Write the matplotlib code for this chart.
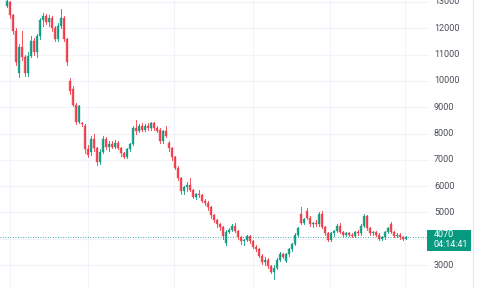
import matplotlib
matplotlib.use("Agg")
import matplotlib.pyplot as plt
from matplotlib.patches import Rectangle

plt.rcParams["font.family"] = ["Roboto", "DejaVu Sans"]

# daily candles, oldest first
opens = [12850, 13000, 12500, 11900, 10300, 11300, 10900, 10300, 10950, 11500,
         11100, 11700, 12300, 12450, 12250, 12400, 12000, 11600, 12100, 12400,
         11600, 10000, 9700, 9100, 8450, 8400, 8300, 7400, 7300, 7800,
         7450, 6900, 7300, 7800, 7500, 7600, 7500, 7650, 7450, 7250,
         7100, 7400, 7600, 8200, 8100, 8300, 8150, 8300, 8200, 8400,
         8200, 8150, 7700, 8100, 7650, 7450, 7100, 6700, 6300, 5800,
         5950, 6050, 5850, 5600, 5700, 5650, 5450, 5350, 5200, 4900,
         4700, 4550, 4450, 3850, 4250, 4350, 4500, 4300, 4050, 3900,
         3950, 4100, 3900, 3700, 3600, 3350, 3100, 3200, 2950, 2750,
         2900, 3200, 3400, 3150, 3400, 3600, 3800, 4150, 4950, 4600,
         5050, 4800, 4550, 4600, 4550, 4950, 4450, 4200, 3950, 4200,
         4300, 4500, 4250, 4150, 4200, 4150, 4100, 4250, 4200, 4500,
         4850, 4400, 4200, 4250, 4150, 4000, 4050, 4250, 4550, 4250,
         4100, 4150, 4050, 4000]
highs = [13100, 13050, 12550, 12000, 11400, 11900, 11000, 11100, 11700, 11650,
         11800, 12400, 12600, 12550, 12500, 12450, 12100, 12200, 12750, 12450,
         11650, 10100, 9800, 9150, 9100, 8450, 8350, 7550, 7900, 8000,
         7500, 7400, 7900, 7850, 7700, 7700, 7750, 7700, 7500, 7300,
         7450, 7650, 8300, 8500, 8350, 8400, 8350, 8400, 8450, 8450,
         8300, 8200, 8150, 8300, 7700, 7500, 7150, 6750, 6350, 6000,
         6150, 6300, 5900, 5750, 5850, 5700, 5500, 5450, 5250, 4950,
         4750, 4600, 4500, 4350, 4400, 4550, 4600, 4350, 4100, 4000,
         4150, 4150, 3950, 3750, 3650, 3400, 3300, 3250, 3000, 3000,
         3250, 3500, 3450, 3450, 3650, 3850, 4200, 4450, 5200, 4800,
         5150, 4850, 4650, 4700, 5000, 5050, 4500, 4250, 4250, 4350,
         4550, 4600, 4300, 4250, 4250, 4200, 4300, 4350, 4550, 4950,
         4900, 4450, 4300, 4300, 4200, 4100, 4300, 4450, 4650, 4300,
         4200, 4200, 4100, 4100]
lows = [12800, 12400, 11800, 10600, 10150, 10800, 10200, 10200, 10900, 11000,
        10900, 11600, 12100, 12150, 12100, 11900, 11500, 11500, 12000, 11500,
        10600, 9500, 9050, 8350, 8400, 8300, 7250, 7100, 7200, 7350,
        6800, 6850, 7250, 7400, 7350, 7450, 7450, 7400, 7150, 7050,
        7050, 7350, 7550, 8000, 8050, 8100, 8100, 8150, 8150, 8150,
        8050, 7650, 7650, 7850, 7350, 7000, 6650, 6250, 5700, 5700,
        5800, 5800, 5550, 5500, 5600, 5400, 5300, 5100, 4800, 4650,
        4450, 4350, 4000, 3750, 4200, 4300, 4250, 4000, 3800, 3750,
        3900, 3850, 3650, 3550, 3300, 3050, 3000, 2900, 2700, 2450,
        2850, 3150, 3250, 3100, 3350, 3550, 3750, 4100, 4550, 4550,
        4750, 4500, 4450, 4500, 4500, 4400, 4150, 3900, 3900, 4100,
        4250, 4200, 4100, 4100, 4100, 4050, 4050, 4150, 4150, 4450,
        4350, 4150, 4150, 4100, 3950, 3950, 4000, 4200, 4200, 4050,
        4050, 4000, 3950, 3980]
closes = [13050, 12500, 11900, 10700, 11300, 10900, 10300, 10950, 11500, 11100,
          11700, 12300, 12450, 12250, 12400, 12000, 11600, 12100, 12400, 11600,
          10700, 9600, 9100, 8450, 9050, 8350, 7400, 7200, 7800, 7450,
          6900, 7300, 7800, 7500, 7600, 7500, 7650, 7450, 7250, 7100,
          7400, 7600, 8200, 8100, 8300, 8150, 8300, 8200, 8400, 8200,
          8100, 7700, 8100, 7900, 7450, 7100, 6700, 6300, 5800, 5950,
          6050, 5850, 5600, 5700, 5650, 5450, 5350, 5200, 4900, 4700,
          4550, 4450, 4100, 4250, 4350, 4500, 4300, 4050, 3900, 3950,
          4100, 3900, 3700, 3600, 3350, 3100, 3200, 2950, 2750, 2900,
          3200, 3400, 3300, 3400, 3600, 3800, 4150, 4400, 4600, 4750,
          4800, 4550, 4600, 4550, 4950, 4450, 4200, 3950, 4200, 4300,
          4500, 4250, 4150, 4200, 4150, 4100, 4250, 4200, 4500, 4850,
          4400, 4200, 4250, 4150, 4000, 4050, 4250, 4400, 4250, 4100,
          4150, 4050, 4000, 4070]

price_levels = [3000, 5000, 6000, 7000, 8000, 9000, 10000, 11000, 12000, 13000]
grid_levels = [3000, 4000, 5000, 6000, 7000, 8000, 9000, 10000, 11000, 12000, 13000]
vgrid_idx = [1, 27, 55.7, 82, 107.7, 132.7]
last_label = "4070"
timer_label = "04:14:41"

UP = "#089981"
DOWN = "#f23645"

fig = plt.figure(figsize=(4.8, 2.88), dpi=100)
ax = fig.add_axes([0, 0, 1, 1])
ax.set_xlim(-2.33, 157.67)
ax.set_ylim(2126, 13076)
ax.axis("off")

for g in grid_levels:
    ax.plot([-2.33, 140.5], [g, g], color="#f0f3fa", lw=0.8, zorder=0)
for v in vgrid_idx:
    ax.axvline(v, color="#f0f3fa", lw=0.8, zorder=0)
ax.axvline(155.3, color="#e6e8ee", lw=0.8, zorder=0)

for i in range(len(closes)):
    o, h, l, c = opens[i], highs[i], lows[i], closes[i]
    col = UP if c >= o else DOWN
    ax.plot([i, i], [l, h], color=col, lw=0.7, alpha=0.85, zorder=2)
    ax.add_patch(Rectangle((i - 0.35, min(o, c)), 0.7, max(abs(c - o), 20),
                           facecolor=col, edgecolor=col, lw=0.3, alpha=0.85, zorder=3))

# last price line
last = closes[-1]
ax.plot([-2.33, 140], [last, last], color=UP, lw=0.6, ls=(0, (1, 2)), zorder=1)

for p in price_levels:
    ax.text(142.3, p, str(p), fontsize=6.5, color="#4a4e5a", va="center", ha="left")

# price label box
ax.add_patch(Rectangle((140, last - 520), 14.7, 800, facecolor=UP, edgecolor="none",
                       zorder=4, clip_on=False))
ax.text(142.3, last + 80, last_label, fontsize=6.5, color="white", va="center", ha="left", zorder=5)
ax.text(142.3, last - 300, timer_label, fontsize=6.5, color="white", va="center", ha="left", zorder=5)

fig.savefig("out.png", dpi=100)
